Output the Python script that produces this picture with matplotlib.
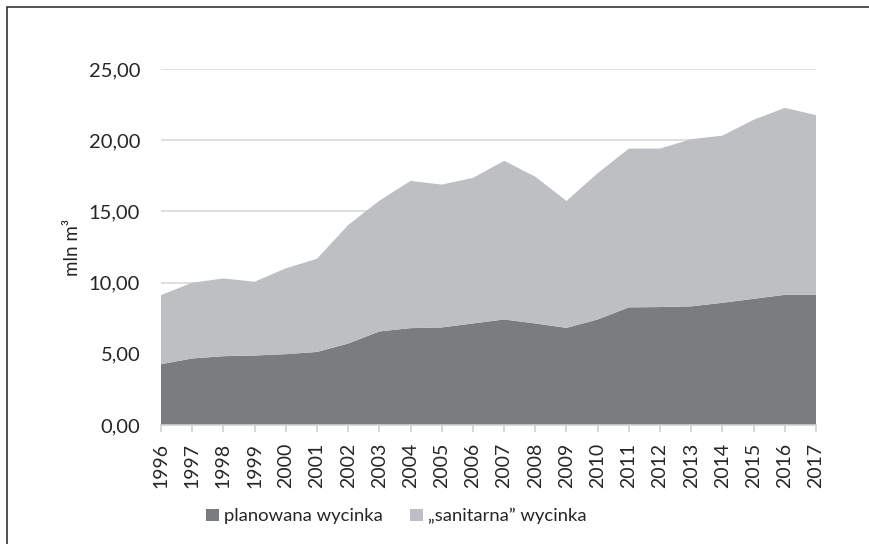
import matplotlib.pyplot as plt
from matplotlib.patches import Rectangle
from matplotlib.ticker import FuncFormatter

plt.rcParams['font.family'] = ['Lato', 'DejaVu Sans']

years = list(range(1996, 2018))
# planowana (planned) cut, mln m3
planowana = [4.27, 4.67, 4.83, 4.88, 4.97, 5.13, 5.72, 6.57, 6.80, 6.85, 7.13,
             7.41, 7.13, 6.82, 7.41, 8.26, 8.28, 8.33, 8.58, 8.86, 9.14, 9.14]
# total (top of the stack), mln m3
total = [9.12, 9.99, 10.29, 10.06, 11.00, 11.67, 14.04, 15.75, 17.14, 16.88, 17.35,
         18.55, 17.44, 15.73, 17.68, 19.41, 19.41, 20.07, 20.32, 21.43, 22.27, 21.76]
sanitarna = [t - p for t, p in zip(total, planowana)]

labels = ['planowana wycinka', '\u201esanitarna\u201d wycinka']
dark = '#7b7c80'
light = '#bebfc3'

fig = plt.figure(figsize=(8.69, 5.44), dpi=100)
ax = fig.add_axes([0.1853, 0.2188, 0.7537, 0.6544])

ax.stackplot(years, planowana, sanitarna, colors=[dark, light], labels=labels,
             linewidth=0, zorder=2)

ax.set_xlim(1996, 2017)
ax.set_ylim(0, 25)
ax.set_yticks([0, 5, 10, 15, 20, 25])
ax.yaxis.set_major_formatter(FuncFormatter(lambda v, p: f'{v:.2f}'.replace('.', ',')))
ax.set_xticks(years)
ax.set_xticklabels([str(y) for y in years], rotation=90)

ax.grid(axis='y', color='#d9d9d9', linewidth=1.2, zorder=0)
ax.set_axisbelow(True)
for s in ['top', 'right', 'left']:
    ax.spines[s].set_visible(False)
ax.spines['bottom'].set_color('#d0d0d0')
ax.spines['bottom'].set_linewidth(1.2)
ax.spines['bottom'].set_zorder(3)
ax.tick_params(axis='y', length=0, pad=15, labelsize=14.5, colors='#262626')
ax.tick_params(axis='x', length=5, color='#d0d0d0', width=1.2, pad=8,
               labelsize=14, colors='#d0d0d0', labelcolor='#262626')

ax.set_ylabel('mln m\u00b3', fontsize=13.5, color='#262626')
ax.yaxis.set_label_coords(-0.122, 0.5)

ax.legend(loc='center', bbox_to_anchor=(0.456, 0.051), bbox_transform=fig.transFigure,
          ncol=2, frameon=False, fontsize=13.3, handlelength=0.7, handleheight=0.7,
          handletextpad=0.25, columnspacing=1.5, labelcolor='#262626')

# frame around the chart (only the top and left edges are in the picture)
fig.patches.append(Rectangle((7 / 869, -0.1), 1.2, 1.1 - 7.5 / 544,
                             transform=fig.transFigure, fill=False,
                             edgecolor='#333333', linewidth=1.2))

fig.savefig('out.png', dpi=100)
